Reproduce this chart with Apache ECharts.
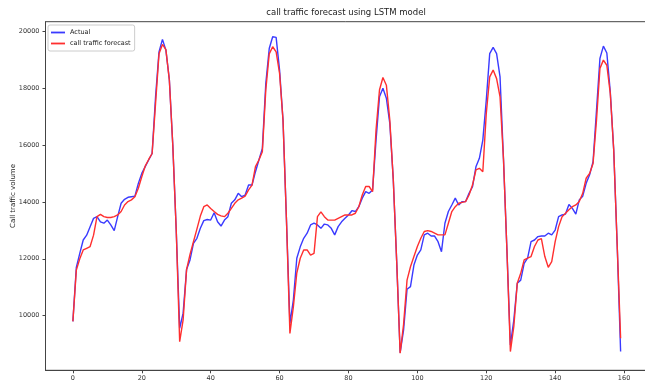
<!DOCTYPE html>
<html>
<head>
<meta charset="utf-8">
<script src="https://cdn.jsdelivr.net/npm/echarts@6/dist/echarts.min.js"></script>
<style>
  html, body { margin: 0; padding: 0; background: #fff; }
  #chart { width: 645px; height: 385px; }
</style>
</head>
<body>
<div id="chart"></div>
<script>
// values, one per step 0..159
var actual = [
  9800, 11700, 12190, 12660, 12830, 13125, 13420, 13480, 13300, 13250,
  13360, 13190, 12990, 13480, 13950, 14090, 14160, 14180, 14200, 14650,
  15000, 15240, 15470, 15700, 17690, 19270, 19710, 19330, 18300, 16000,
  13000, 9560, 10090, 11620, 11960, 12540, 12720, 13070, 13340, 13380,
  13360, 13620, 13300, 13150, 13360, 13480, 13950, 14070, 14300, 14180,
  14240, 14590, 14590, 15060, 15470, 15880, 18160, 19390, 19800, 19780,
  18630, 16870, 13360, 9730, 10550, 12020, 12420, 12720, 12900, 13190,
  13250, 13190, 13070, 13220, 13190, 13070, 12840, 13130, 13300, 13420,
  13540, 13690, 13660, 13830, 14130, 14360, 14300, 14420, 16170, 17690,
  17990, 17640, 16760, 14800, 11900, 8700, 9500, 10930, 11020, 11780,
  12130, 12310, 12840, 12900, 12800, 12800, 12600, 12250, 13250, 13660,
  13890, 14130, 13890, 14010, 14010, 14300, 14530, 15230, 15530, 16170,
  17570, 19210, 19430, 19210, 18390, 15500, 12300, 8970, 9850, 11140,
  11250, 11840, 12020, 12600, 12660, 12780, 12800, 12800, 12900, 12840,
  13010, 13480, 13540, 13570, 13910, 13770, 13570, 14070, 14200, 14650,
  14950, 15410, 17220, 19040, 19470, 19230, 17870, 15820, 12500, 8740
];
var forecast = [
  9800, 11600, 12000, 12310, 12370, 12430, 12830, 13480, 13560, 13480,
  13450, 13450, 13480, 13540, 13660, 13890, 14010, 14070, 14180, 14480,
  14880, 15260, 15490, 15700, 17460, 19200, 19530, 19350, 18280, 16000,
  13000, 9090, 9850, 11620, 12150, 12600, 13040, 13500, 13830, 13890,
  13770, 13660, 13560, 13510, 13480, 13600, 13770, 13950, 14070, 14130,
  14200, 14420, 14590, 15240, 15470, 15760, 17930, 19200, 19450, 19270,
  18510, 16870, 13360, 9380, 10310, 11500, 12020, 12310, 12310, 12130,
  12190, 13480, 13650, 13480, 13360, 13360, 13360, 13420, 13480, 13540,
  13540, 13540, 13600, 13830, 14240, 14540, 14540, 14360, 16520, 17930,
  18370, 18100, 16870, 14800, 11900, 8680, 9700, 11250, 11720, 12080,
  12430, 12720, 12960, 12990, 12960, 12900, 12840, 12840, 12840, 13250,
  13660, 13830, 13950, 13980, 14010, 14240, 14590, 15120, 15180, 15060,
  17100, 18390, 18630, 18330, 17690, 15500, 12300, 8740, 9620, 11140,
  11490, 11960, 12020, 12080, 12430, 12660, 12710, 12080, 11700, 11900,
  12600, 13130, 13480, 13600, 13720, 13830, 13890, 14010, 14300, 14830,
  15000, 15350, 16870, 18690, 18980, 18800, 17810, 15820, 12500, 9210
];
var xTicks = [0, 20, 40, 60, 80, 100, 120, 140, 160];
var yTicks = [10000, 12000, 14000, 16000, 18000, 20000];

var font = 'DejaVu Sans';

function pairs(vals) {
  return vals.map(function (v, i) { return [i, v]; });
}

var myChart = echarts.init(document.getElementById('chart'));
myChart.setOption({
  animation: false,
  backgroundColor: '#fff',
  title: {
    text: 'call traffic forecast using LSTM model',
    left: 346,
    top: 8,
    padding: 0,
    textAlign: 'center',
    textStyle: { fontFamily: font, fontSize: 8.5, fontWeight: 'normal', color: '#222' }
  },
  legend: {
    left: 48,
    top: 25,
    orient: 'vertical',
    padding: [4, 4, 4, 3],
    icon: 'rect',
    itemWidth: 14,
    itemHeight: 1.8,
    itemGap: 4,
    borderColor: '#ccc',
    borderWidth: 1,
    borderRadius: 2,
    backgroundColor: 'rgba(255,255,255,0.8)',
    textStyle: { fontFamily: font, fontSize: 6.5, color: '#222' },
    data: ['Actual', 'call traffic forecast']
  },
  grid: {
    left: 45.5,
    top: 21.7,
    width: 602.5,
    height: 348.6,
    outerBoundsMode: 'none',
    show: true,
    borderColor: '#444',
    borderWidth: 1
  },
  xAxis: {
    type: 'value',
    min: -7.95,
    max: 166.95,
    splitLine: { show: false },
    axisLine: { show: true, onZero: false, lineStyle: { color: '#444', width: 1 } },
    axisTick: { show: true, customValues: xTicks, length: 3, lineStyle: { color: '#444' } },
    axisLabel: {
      customValues: xTicks,
      margin: 5,
      fontFamily: font,
      fontSize: 6.5,
      color: '#333'
    }
  },
  yAxis: {
    type: 'value',
    min: 8082,
    max: 20330,
    name: 'Call traffic volume',
    nameLocation: 'middle',
    nameGap: 29,
    nameMoveOverlap: false,
    nameTextStyle: { fontFamily: font, fontSize: 7, color: '#222' },
    splitLine: { show: false },
    axisLine: { show: true, onZero: false, lineStyle: { color: '#444', width: 1 } },
    axisTick: { show: true, customValues: yTicks, length: 3, lineStyle: { color: '#444' } },
    axisLabel: {
      customValues: yTicks,
      margin: 6,
      fontFamily: font,
      fontSize: 6.5,
      color: '#333',
      formatter: function (v) { return String(v); }
    }
  },
  series: [
    {
      name: 'Actual',
      type: 'line',
      symbol: 'none',
      data: pairs(actual),
      color: '#3a3aff',
      lineStyle: { color: '#3a3aff', width: 1.4 }
    },
    {
      name: 'call traffic forecast',
      type: 'line',
      symbol: 'none',
      data: pairs(forecast),
      color: '#ff2f2f',
      lineStyle: { color: '#ff2f2f', width: 1.4 }
    }
  ]
});
</script>
</body>
</html>
